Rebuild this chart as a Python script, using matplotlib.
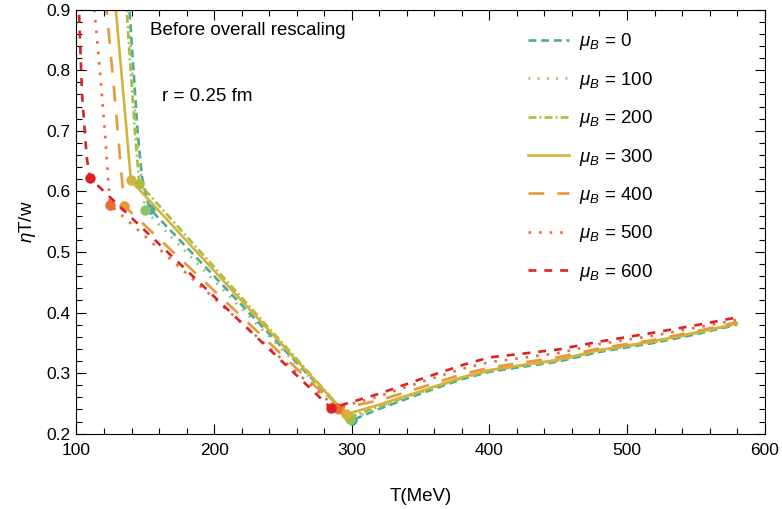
import numpy as np
import matplotlib.pyplot as plt
from matplotlib.ticker import MultipleLocator

plt.rcParams['font.family'] = ['Liberation Sans', 'DejaVu Sans']
plt.rcParams['mathtext.fontset'] = 'custom'
plt.rcParams['mathtext.rm'] = 'Liberation Sans'
plt.rcParams['mathtext.it'] = 'Liberation Sans:italic'

mu_B = [0, 100, 200, 300, 400, 500, 600]

# each curve: steep hadronic branch -> dot -> straight to minimum -> QGP branch
T_mu0 = [137.0, 138.5, 144.5, 147.6, 150.5, 153.4, 300, 320, 350, 380, 400, 420, 450, 480, 520, 550, 580]
v_mu0 = [0.95, 0.9, 0.696, 0.624, 0.592, 0.571, 0.222, 0.241, 0.266, 0.290, 0.302, 0.309, 0.319, 0.335, 0.350, 0.364, 0.380]
T_mu100 = [136.0, 137.5, 143.5, 147.0, 149.7, 299, 320, 350, 380, 400, 420, 450, 480, 520, 550, 580]
v_mu100 = [0.95, 0.9, 0.696, 0.624, 0.569, 0.224, 0.243, 0.268, 0.292, 0.304, 0.311, 0.321, 0.337, 0.352, 0.366, 0.381]
T_mu200 = [135.0, 136.4, 142.5, 145.6, 298, 320, 350, 380, 400, 420, 450, 480, 520, 550, 580]
v_mu200 = [0.95, 0.9, 0.696, 0.613, 0.227, 0.245, 0.269, 0.292, 0.304, 0.311, 0.321, 0.337, 0.352, 0.366, 0.381]
T_mu300 = [127.0, 128.6, 139.6, 296, 320, 350, 380, 400, 420, 450, 480, 520, 550, 580]
v_mu300 = [0.95, 0.9, 0.618, 0.232, 0.248, 0.270, 0.293, 0.305, 0.312, 0.322, 0.338, 0.353, 0.367, 0.382]
T_mu400 = [120.0, 121.9, 128.0, 134.7, 291, 320, 350, 380, 400, 420, 450, 480, 520, 550, 580]
v_mu400 = [0.95, 0.9, 0.751, 0.576, 0.241, 0.255, 0.276, 0.298, 0.309, 0.316, 0.326, 0.341, 0.355, 0.369, 0.384]
T_mu500 = [111.0, 113.0, 117.0, 120.7, 124.3, 289, 320, 350, 380, 400, 420, 450, 480, 520, 550, 580]
v_mu500 = [0.95, 0.9, 0.8, 0.696, 0.578, 0.242, 0.262, 0.285, 0.307, 0.318, 0.324, 0.333, 0.348, 0.362, 0.375, 0.388]
T_mu600 = [100.5, 101.8, 104.0, 107.4, 109.8, 285, 320, 350, 380, 400, 420, 450, 480, 520, 550, 580]
v_mu600 = [0.97, 0.9, 0.762, 0.657, 0.622, 0.242, 0.266, 0.290, 0.313, 0.326, 0.331, 0.339, 0.352, 0.367, 0.379, 0.392]

# dots: end of hadronic branch and minimum
dot_T_low = [153.4, 149.7, 145.6, 139.6, 134.7, 124.3, 109.8]
dot_v_low = [0.571, 0.569, 0.613, 0.618, 0.576, 0.578, 0.622]
dot_T_min = [300, 299, 298, 296, 291, 289, 285]
dot_v_min = [0.222, 0.224, 0.227, 0.232, 0.241, 0.242, 0.242]

curves_T = [T_mu0, T_mu100, T_mu200, T_mu300, T_mu400, T_mu500, T_mu600]
curves_v = [v_mu0, v_mu100, v_mu200, v_mu300, v_mu400, v_mu500, v_mu600]

colors = ['#4DAA97', '#8CC46E', '#A9BD3E', '#D4B33C', '#E8973D', '#EC6B39', '#DC2126']
dashes = [(3.0, 1.8), (0.7, 2.8), (3.0, 1.2, 0.7, 1.2), (), (6.0, 5.0), (1.0, 3.0), (3.0, 3.0)]

fig = plt.figure(figsize=(7.82, 5.09), dpi=100)
ax = fig.add_axes([0.0978, 0.148, 0.88, 0.833])

for i in range(len(mu_B)):
    line, = ax.plot(curves_T[i], curves_v[i], color=colors[i], lw=1.9,
                    label=r'$\mu_B$ = %d' % mu_B[i])
    if dashes[i]:
        line.set_dashes(dashes[i])
    ax.plot([dot_T_low[i], dot_T_min[i]], [dot_v_low[i], dot_v_min[i]], 'o',
            color=colors[i], ms=7.5, mec='none')

ax.set_xlim(100, 600)
ax.set_ylim(0.2, 0.9)
ax.xaxis.set_major_locator(MultipleLocator(100))
ax.xaxis.set_minor_locator(MultipleLocator(20))
ax.yaxis.set_major_locator(MultipleLocator(0.1))
ax.yaxis.set_minor_locator(MultipleLocator(0.02))
ax.tick_params(which='both', direction='in', top=True, right=True, labelsize=12.5)
ax.tick_params(which='major', length=7, width=0.8)
ax.tick_params(which='minor', length=4, width=0.8)
ax.tick_params(axis='x', pad=7)
ax.tick_params(axis='y', pad=4)

ax.set_xlabel('T(MeV)', fontsize=13.5, labelpad=21)
ax.set_ylabel(r'$\eta$T/w', fontsize=13.5, labelpad=6)

ax.text(153.6, 0.866, 'Before overall rescaling', fontsize=13.5, va='center', ha='left')
ax.text(162, 0.757, 'r = 0.25 fm', fontsize=13.5, va='center', ha='left')

ax.legend(loc='upper left', bbox_to_anchor=(0.663, 0.957), bbox_transform=fig.transFigure,
          frameon=False, fontsize=13.5, handlelength=2.2, labelspacing=0.93,
          handletextpad=0.55, borderpad=0)

fig.savefig('out.png', dpi=100)
